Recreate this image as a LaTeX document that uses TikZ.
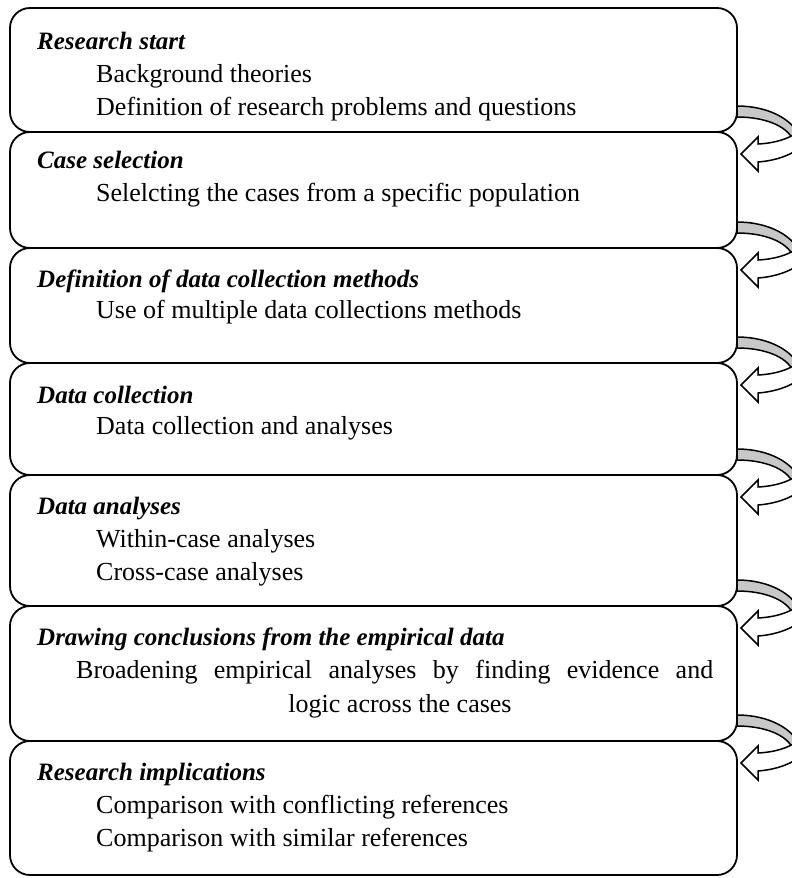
\documentclass[tikz,border=0pt]{standalone}
\usepackage{fontspec}
\setmainfont{Liberation Serif}
\definecolor{bandgray}{RGB}{200,200,200}
\tikzset{
  stage/.style={draw, line width=1.8pt, rounded corners=20pt, inner sep=0pt,
    outer sep=0pt, minimum width=727pt, anchor=north west},
  heading/.style={anchor=base west, inner sep=0pt,
    font=\fontsize{25}{30}\selectfont\bfseries\itshape},
  item/.style={anchor=base west, inner sep=0pt, font=\fontsize{26}{30}\selectfont},
  % curved hand-over arrow placed at the joint of two stages
  pics/turnarrow/.style={code={
    \draw[line width=1.5pt, fill=bandgray, line join=round]
      (0,-26) .. controls (32,-26) and (58,-12) .. (64,8)
      -- (56,8) .. controls (50,-6) and (28,-15) .. (0,-15) -- cycle;
    \draw[line width=1.5pt, fill=white, line join=miter]
      (70,-10) .. controls (62,4) and (42,11) .. (21,12)
      -- (21,5) -- (4,22) -- (21,39) -- (21,30)
      .. controls (48,28) and (72,16) .. (80,-6) -- cycle;
  }}
}
\begin{document}
\begin{tikzpicture}[x=1pt,y=-1pt]
\useasboundingbox (0,0) rectangle (792,878);
\clip (0,0) rectangle (792,878);

% stages
\node[stage, minimum height=124pt] (s1) at (10,8) {};
\node[stage, minimum height=116pt] (s2) at (10,132) {};
\node[stage, minimum height=115pt] (s3) at (10,248) {};
\node[stage, minimum height=112pt] (s4) at (10,363) {};
\node[stage, minimum height=131pt] (s5) at (10,475) {};
\node[stage, minimum height=135pt] (s6) at (10,606) {};
\node[stage, minimum height=134pt] (s7) at (10,741) {};

% stage texts
\node[heading] (h1) at (37,49) {Research start};
\node[item] (a1) at (96,82) {Background theories};
\node[item] (b1) at (96,115) {Definition of research problems and questions};

\node[heading] (h2) at (37,168) {Case selection};
\node[item] (a2) at (96,201) {Selelcting the cases from a specific population};

\node[heading] (h3) at (37,287) {Definition of data collection methods};
\node[item] (a3) at (96,318) {Use of multiple data collections methods};

\node[heading] (h4) at (37,403) {Data collection};
\node[item] (a4) at (96,434) {Data collection and analyses};

\node[heading] (h5) at (37,514) {Data analyses};
\node[item] (a5) at (96,547) {Within-case analyses};
\node[item] (b5) at (96,580) {Cross-case analyses};

\node[heading] (h6) at (37,645) {Drawing conclusions from the empirical data};
\node[item] (a6) at (76,678)
  {\makebox[637pt][s]{Broadening empirical analyses by finding evidence and}};
\node[item, anchor=base] (b6) at (400,712) {logic across the cases};

\node[heading] (h7) at (37,780) {Research implications};
\node[item] (a7) at (96,813) {Comparison with conflicting references};
\node[item] (b7) at (96,846) {Comparison with similar references};

% hand-over arrows between consecutive stages
\pic at (s1.south east) {turnarrow};
\pic at (s2.south east) {turnarrow};
\pic at (s3.south east) {turnarrow};
\pic at (s4.south east) {turnarrow};
\pic at (s5.south east) {turnarrow};
\pic at (s6.south east) {turnarrow};
\end{tikzpicture}
\end{document}
